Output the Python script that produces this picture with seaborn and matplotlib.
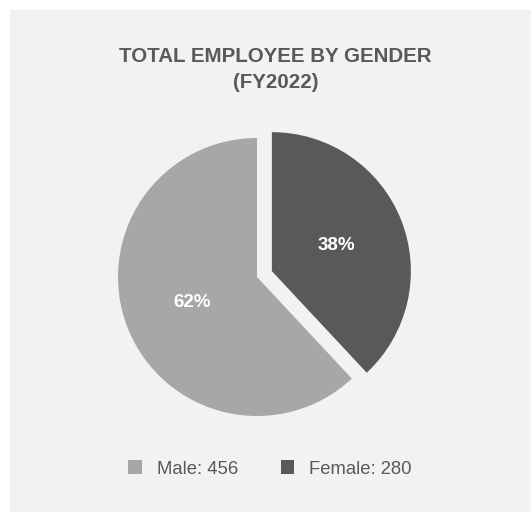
import matplotlib
matplotlib.use("Agg")
import matplotlib.pyplot as plt
from matplotlib.patches import Patch
import seaborn as sns

categories = ["Male", "Female"]
values = [456, 280]
title_lines = ["TOTAL EMPLOYEE BY GENDER", "(FY2022)"]

sns.set_theme(style="white")
plt.rcParams['font.family'] = ['Liberation Sans', 'DejaVu Sans']

colors = sns.color_palette(["#a7a7a8", "#58595b"])
bg = "#f2f2f2"
text_col = "#58595b"

W, H = 531, 512
fig = plt.figure(figsize=(W / 100, H / 100), dpi=100)
fig.patch.set_facecolor("white")

bgax = fig.add_axes([10 / W, 0, 1 - 10 / W, 1 - 10 / H], zorder=-5)
bgax.set_facecolor(bg)
bgax.set_xticks([])
bgax.set_yticks([])
for s in bgax.spines.values():
    s.set_visible(False)

cx, cy, r = 257, H - 277, 139
lim = 1.3
side = 2 * lim * r
ax = fig.add_axes([(cx - side / 2) / W, (cy - side / 2) / H, side / W, side / H], zorder=1)
ax.set_facecolor("none")
wedges, texts, autotexts = ax.pie(
    values, colors=colors, startangle=90, counterclock=True,
    explode=[0, 0.115], autopct="%1.0f%%", pctdistance=0.5,
    wedgeprops=dict(linewidth=0),
    textprops=dict(color="white", fontsize=13.5, fontweight="bold"))
ax.set_xlim(-lim, lim)
ax.set_ylim(-lim, lim)
ax.set_aspect("equal")
ax.axis("off")

fig.text(275.5 / W, 1 - 57 / H, title_lines[0], ha="center", va="center",
         fontsize=14.8, fontweight="bold", color=text_col)
fig.text(275.5 / W, 1 - 82.5 / H, title_lines[1], ha="center", va="center",
         fontsize=14.8, fontweight="bold", color=text_col)

handles = [Patch(facecolor=c, edgecolor="none") for c in colors]
labels = [f"{c}: {v}" for c, v in zip(categories, values)]
leg = fig.legend(handles, labels, loc="center", bbox_to_anchor=(270 / W, 1 - 469 / H),
                 ncol=2, frameon=False, fontsize=13.3, handlelength=0.75, handleheight=0.75,
                 handletextpad=0.8, columnspacing=2.3, labelcolor=text_col)

fig.savefig("out.png", dpi=100, facecolor=fig.get_facecolor())
